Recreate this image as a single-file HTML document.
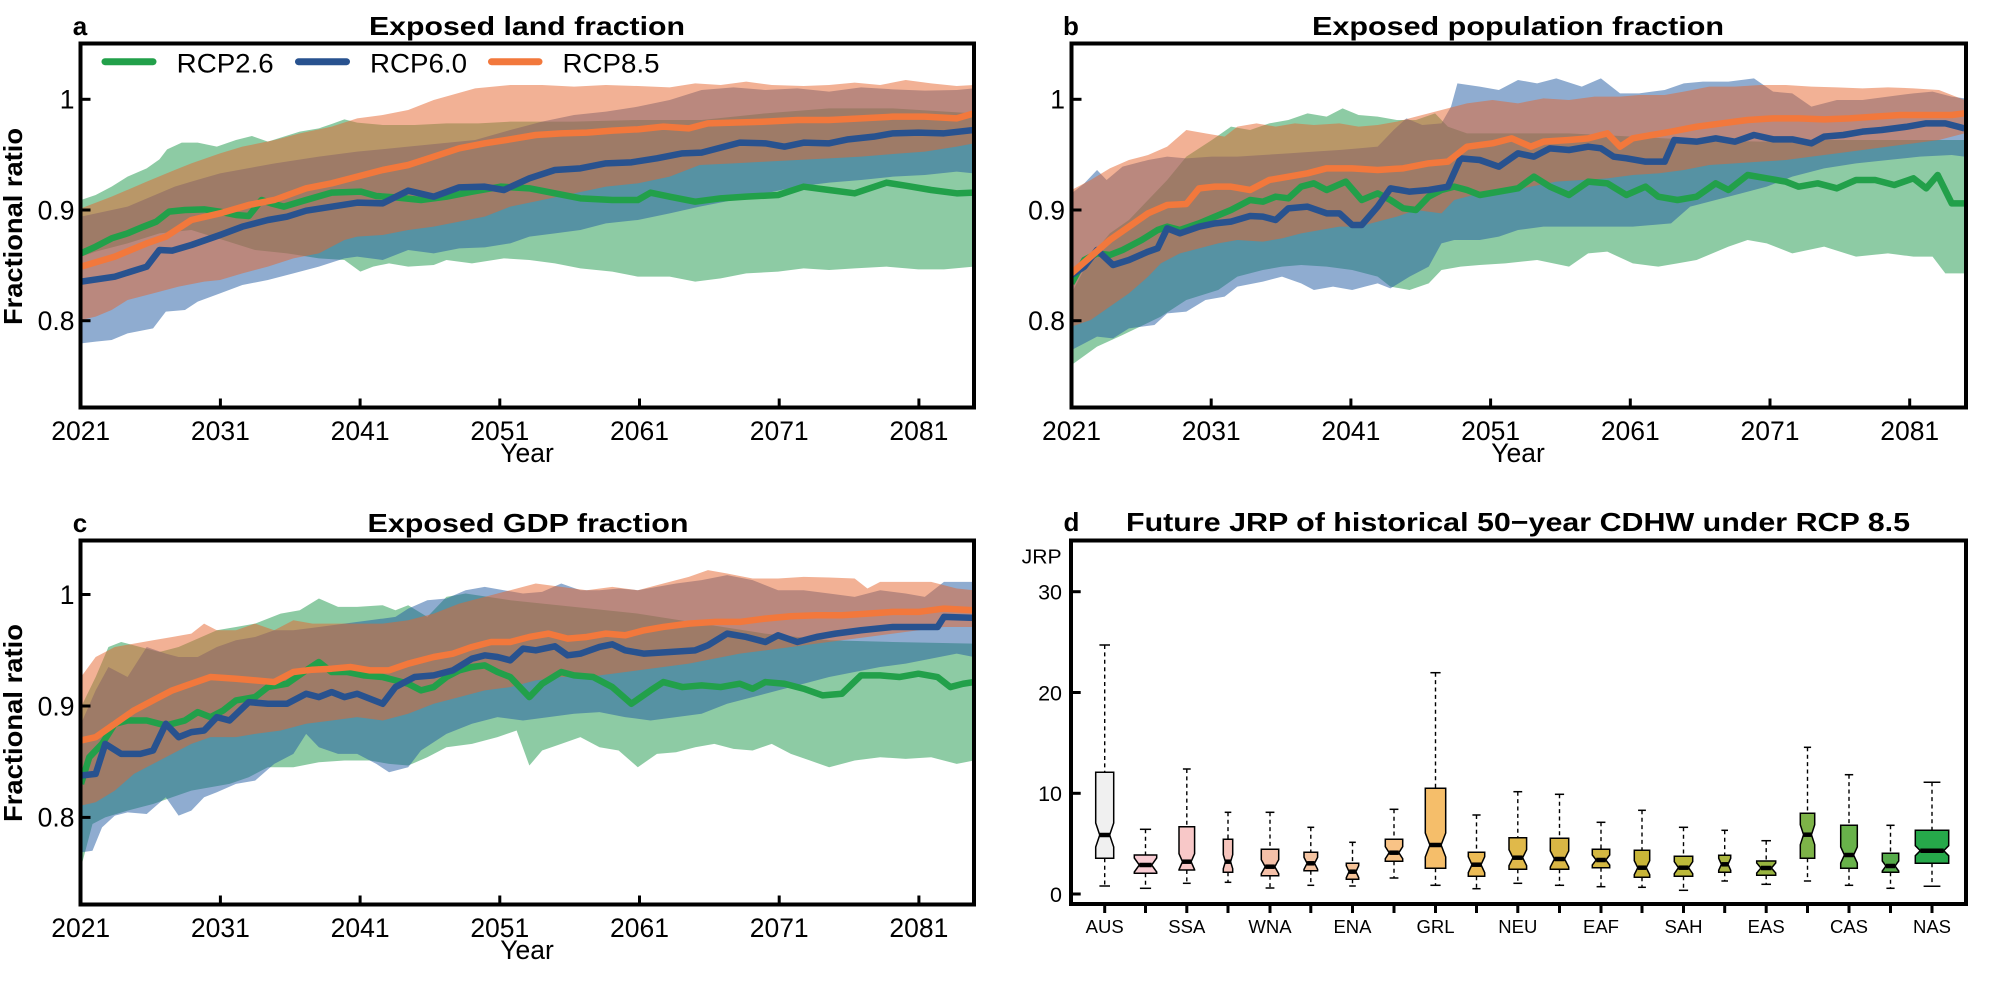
<!DOCTYPE html>
<html><head><meta charset="utf-8"><style>
html,body{margin:0;padding:0;background:#fff;}
svg{display:block;}
text{font-family:"Liberation Sans",Arial,sans-serif;fill:#000;}
.t{font-size:26.5px;}
.ttl{font-size:26px;font-weight:bold;}
.lab{font-size:26px;font-weight:bold;}
.ln{fill:none;stroke-width:6.5;stroke-linejoin:round;stroke-linecap:butt;}
.gF{fill:#1b9749;fill-opacity:0.5;}
.bF{fill:#1f59a1;fill-opacity:0.5;}
.oF{fill:#e5632b;fill-opacity:0.5;}
.frame{fill:none;stroke:#000;stroke-width:4;}
.tk{stroke:#000;stroke-width:3;}
.wh{stroke:#000;stroke-width:1.4;stroke-dasharray:4 3.4;}
.cap{stroke:#000;stroke-width:1.5;}
.bx{stroke:#000;stroke-width:1.5;}
.md{stroke:#000;stroke-width:4.5;}
.dl{font-size:18.5px;}
.dy{font-size:21.5px;}
</style></head><body>
<svg width="1995" height="981" viewBox="0 0 1995 981" xmlns="http://www.w3.org/2000/svg">
<rect width="1995" height="981" fill="#fff"/>
<defs>
<clipPath id="cpa"><rect x="81" y="43.5" width="893" height="364"/></clipPath>
<clipPath id="cpb"><rect x="1071.5" y="43.5" width="894.5" height="364"/></clipPath>
<clipPath id="cpc"><rect x="81" y="540.5" width="893" height="364"/></clipPath>
</defs>

<!-- ============ PANEL A ============ -->
<g clip-path="url(#cpa)">
<g transform="matrix(0.6378 0 0 0.33333 0 0)">
<polygon class="gF" points="127,600 150,585 175,560 200,530 230,505 250,478 262,448 285,428 310,428 340,440 370,420 395,408 420,425 445,410 470,395 500,385 520,372 540,358 560,368 600,375 650,375 700,370 750,370 800,365 900,365 1000,360 1100,360 1200,340 1300,325 1400,325 1527,340 1527,800 1480,808 1440,808 1390,800 1340,805 1300,810 1260,805 1220,815 1170,820 1130,835 1090,845 1050,830 1000,830 960,815 910,805 870,790 830,780 790,775 740,790 700,780 680,795 640,800 610,790 585,800 565,815 540,780 500,775 450,760 400,750 350,720 300,690 250,700 200,730 150,755 127,770"/>
<polygon class="bF" points="127,650 200,620 274,560 300,545 345,520 431,490 500,470 560,455 640,440 745,420 800,390 850,365 900,345 950,335 1000,320 1050,300 1100,270 1150,262 1200,270 1250,265 1300,275 1350,262 1400,268 1450,272 1500,270 1527,265 1527,520 1500,515 1450,525 1400,530 1350,540 1300,548 1250,560 1200,580 1150,600 1097,620 1050,640 1000,660 950,670 910,690 870,700 830,710 800,730 760,742 720,745 680,760 640,750 600,780 560,770 540,775 500,800 460,820 420,840 380,855 345,880 310,905 290,930 260,935 240,985 200,1000 175,1020 150,1025 127,1030"/>
<polygon class="oF" points="127,625 175,590 230,545 274,510 300,490 345,460 380,440 431,420 470,400 520,380 560,355 600,345 640,330 680,300 745,265 800,255 850,255 900,260 950,255 1000,258 1050,262 1090,250 1130,255 1170,245 1210,255 1260,258 1300,255 1340,248 1380,255 1420,240 1460,250 1500,258 1527,255 1527,430 1500,440 1450,455 1400,462 1350,470 1300,475 1250,480 1200,485 1150,490 1097,495 1050,530 1000,550 950,560 900,580 850,600 800,620 760,650 720,665 680,680 640,690 600,705 560,710 540,720 500,760 460,775 420,800 380,820 345,840 320,845 280,860 240,880 200,900 175,930 150,950 127,960"/>
<polyline class="ln" vector-effect="non-scaling-stroke" stroke="#22a04a" points="127,760 150,740 175,715 200,700 225,680 245,665 265,635 290,630 320,628 345,635 370,645 390,648 410,600 425,610 445,620 480,600 520,578 566,575 590,588 620,592 660,600 700,590 740,575 785,560 830,565 870,580 910,595 960,600 1000,600 1020,578 1050,590 1090,605 1130,595 1170,590 1220,585 1260,560 1300,570 1340,580 1390,548 1420,557 1460,570 1500,580 1527,578"/>
<polyline class="ln" vector-effect="non-scaling-stroke" stroke="#28528f" points="127,845 180,830 230,800 250,750 270,752 300,735 345,705 380,680 420,660 450,650 480,632 520,620 560,608 600,610 640,572 680,590 720,562 760,560 790,570 830,535 870,510 910,505 950,490 990,487 1030,475 1070,460 1100,458 1160,428 1200,430 1230,440 1260,428 1300,430 1330,418 1370,410 1400,400 1440,398 1480,400 1527,390"/>
<polyline class="ln" vector-effect="non-scaling-stroke" stroke="#f2783c" points="127,800 180,770 230,730 260,710 300,660 345,640 390,615 430,600 480,565 520,550 560,530 600,510 640,495 680,470 720,445 760,430 800,418 840,405 880,400 920,398 960,392 1000,388 1040,380 1080,385 1110,370 1150,368 1200,365 1250,360 1300,360 1350,355 1400,350 1450,350 1500,355 1527,340"/>
</g></g>
<rect class="frame" x="80.5" y="43.5" width="893.5" height="364"/>
<g class="tk">
<line x1="220.4" y1="407.5" x2="220.4" y2="398.5"/><line x1="360.1" y1="407.5" x2="360.1" y2="398.5"/><line x1="499.8" y1="407.5" x2="499.8" y2="398.5"/><line x1="639.5" y1="407.5" x2="639.5" y2="398.5"/><line x1="779.2" y1="407.5" x2="779.2" y2="398.5"/><line x1="918.9" y1="407.5" x2="918.9" y2="398.5"/>
<line x1="80.5" y1="99.3" x2="90.5" y2="99.3"/><line x1="80.5" y1="210" x2="90.5" y2="210"/><line x1="80.5" y1="320.7" x2="90.5" y2="320.7"/>
</g>
<g class="t" text-anchor="middle">
<text x="80.7" y="440">2021</text><text x="220.4" y="440">2031</text><text x="360.1" y="440">2041</text><text x="499.8" y="440">2051</text><text x="639.5" y="440">2061</text><text x="779.2" y="440">2071</text><text x="918.9" y="440">2081</text>
<text x="527" y="462">Year</text>
</g>
<g class="t" text-anchor="end">
<text x="74.5" y="108.6">1</text><text x="74.5" y="219.3">0.9</text><text x="74.5" y="330">0.8</text>
</g>
<text class="ttl" x="80" y="35" text-anchor="middle">a</text>
<text class="ttl" x="527" y="35" text-anchor="middle" textLength="316" lengthAdjust="spacingAndGlyphs">Exposed land fraction</text>
<text class="lab" transform="translate(22,226.5) rotate(-90)" text-anchor="middle" font-size="27" textLength="197" lengthAdjust="spacingAndGlyphs">Fractional ratio</text>
<!-- legend -->
<line x1="105" y1="61.7" x2="153" y2="61.7" stroke="#22a04a" stroke-width="7" stroke-linecap="round"/>
<text x="176.7" y="72.3" font-size="27" textLength="97" lengthAdjust="spacingAndGlyphs">RCP2.6</text>
<line x1="298.5" y1="61.7" x2="346.5" y2="61.7" stroke="#28528f" stroke-width="7" stroke-linecap="round"/>
<text x="370" y="72.3" font-size="27" textLength="97" lengthAdjust="spacingAndGlyphs">RCP6.0</text>
<line x1="491.5" y1="61.7" x2="539" y2="61.7" stroke="#f2783c" stroke-width="7" stroke-linecap="round"/>
<text x="562.5" y="72.3" font-size="27" textLength="97" lengthAdjust="spacingAndGlyphs">RCP8.5</text>

<!-- ============ PANEL B ============ -->
<g clip-path="url(#cpb)">
<g transform="matrix(0.6378 0 0 0.33333 995 0)">
<polygon class="gF" points="120,880 150,770 180,700 210,660 240,600 270,540 300,470 340,420 370,380 400,390 430,370 460,360 490,340 520,350 545,325 570,345 600,350 630,360 660,360 690,340 710,380 740,400 800,400 900,400 1000,410 1100,420 1200,425 1300,420 1400,420 1520,420 1520,820 1490,820 1470,770 1440,770 1400,760 1350,770 1300,740 1250,760 1210,730 1180,720 1150,740 1100,780 1070,790 1040,800 1000,790 960,755 930,760 900,800 850,780 800,790 760,795 730,800 700,810 680,850 650,870 620,860 600,830 560,810 520,800 480,795 450,800 420,810 380,830 350,870 300,900 260,950 200,1005 160,1040 120,1095"/>
<polygon class="bF" points="120,580 140,550 160,510 175,540 200,500 240,480 270,470 300,475 340,470 380,470 420,465 460,460 500,455 540,450 570,445 600,440 625,390 645,355 670,375 700,370 715,320 725,250 760,260 790,270 820,240 850,250 880,235 920,260 950,235 980,280 1010,280 1050,270 1080,250 1110,245 1150,245 1190,235 1220,275 1250,280 1280,320 1320,300 1360,300 1400,290 1440,280 1470,275 1500,290 1520,295 1520,470 1500,465 1450,470 1400,480 1350,490 1300,505 1250,530 1210,560 1170,580 1130,600 1090,620 1060,670 1000,680 950,680 900,680 860,680 820,690 790,710 760,720 720,720 700,730 680,800 650,830 620,865 600,850 580,860 560,870 530,860 500,870 480,850 450,830 420,845 380,860 360,890 330,900 300,935 270,940 250,975 210,985 185,1015 160,1010 140,1030 120,1050"/>
<polygon class="oF" points="120,570 150,540 180,505 210,480 240,465 270,440 300,390 330,400 360,410 380,380 410,370 440,380 470,370 500,375 540,370 570,380 600,375 630,365 660,350 700,330 740,310 780,300 820,310 860,295 900,300 940,290 980,290 1010,285 1050,285 1080,275 1120,260 1160,260 1200,255 1240,255 1280,260 1320,262 1360,265 1400,262 1440,265 1480,270 1520,300 1520,400 1480,420 1440,430 1400,440 1360,450 1320,460 1280,470 1240,480 1200,485 1160,490 1120,495 1080,510 1040,520 1000,525 960,535 920,540 880,545 840,560 800,575 760,580 720,600 700,640 660,630 630,650 600,665 570,680 540,680 510,690 480,700 450,715 420,725 380,720 350,730 320,745 290,760 260,790 240,830 210,880 180,920 150,960 120,980"/>
<polyline class="ln" vector-effect="non-scaling-stroke" stroke="#22a04a" points="120,850 140,780 160,760 180,765 200,750 230,720 255,690 270,680 290,690 320,670 345,650 370,630 400,600 420,605 440,590 460,595 480,560 500,550 520,570 550,545 575,600 600,580 620,600 640,625 660,630 680,590 700,570 720,560 740,570 760,585 790,575 820,565 845,530 870,560 900,585 930,545 960,550 990,585 1020,560 1040,590 1070,600 1100,590 1130,550 1150,570 1180,525 1210,535 1240,545 1260,560 1290,550 1320,565 1350,540 1380,540 1410,555 1440,535 1460,565 1478,525 1500,610 1520,610"/>
<polyline class="ln" vector-effect="non-scaling-stroke" stroke="#28528f" points="120,825 140,800 160,750 185,795 210,780 240,755 255,745 270,685 290,700 320,680 345,670 370,665 400,648 420,650 440,660 460,625 490,620 520,640 540,640 560,675 575,675 600,620 620,565 650,575 680,570 710,560 730,475 760,480 790,500 820,460 845,470 870,445 900,450 930,440 950,445 970,470 990,475 1020,485 1050,485 1065,420 1100,425 1130,415 1160,425 1190,405 1220,418 1250,418 1280,430 1300,410 1330,405 1360,395 1390,390 1430,380 1460,370 1490,370 1520,385"/>
<polyline class="ln" vector-effect="non-scaling-stroke" stroke="#f2783c" points="120,820 150,770 180,720 210,680 240,640 270,615 300,612 320,565 345,560 370,560 400,570 430,540 460,530 490,520 520,505 560,505 600,510 640,505 680,490 710,485 740,440 780,430 810,415 840,440 860,425 900,420 930,415 960,400 980,440 1000,415 1030,405 1060,395 1100,380 1140,370 1180,360 1220,355 1260,355 1300,358 1340,355 1380,350 1420,345 1460,345 1500,345 1520,340"/>
</g></g>
<rect class="frame" x="1071.5" y="43.5" width="894.5" height="364"/>
<g class="tk">
<line x1="1211.2" y1="407.5" x2="1211.2" y2="398.5"/><line x1="1350.9" y1="407.5" x2="1350.9" y2="398.5"/><line x1="1490.6" y1="407.5" x2="1490.6" y2="398.5"/><line x1="1630.3" y1="407.5" x2="1630.3" y2="398.5"/><line x1="1770" y1="407.5" x2="1770" y2="398.5"/><line x1="1909.7" y1="407.5" x2="1909.7" y2="398.5"/>
<line x1="1071.5" y1="99.3" x2="1081.5" y2="99.3"/><line x1="1071.5" y1="210" x2="1081.5" y2="210"/><line x1="1071.5" y1="320.7" x2="1081.5" y2="320.7"/>
</g>
<g class="t" text-anchor="middle">
<text x="1071.5" y="440">2021</text><text x="1211.2" y="440">2031</text><text x="1350.9" y="440">2041</text><text x="1490.6" y="440">2051</text><text x="1630.3" y="440">2061</text><text x="1770" y="440">2071</text><text x="1909.7" y="440">2081</text>
<text x="1518" y="462">Year</text>
</g>
<g class="t" text-anchor="end">
<text x="1065" y="108.6">1</text><text x="1065" y="219.3">0.9</text><text x="1065" y="330">0.8</text>
</g>
<text class="ttl" x="1071" y="35" text-anchor="middle">b</text>
<text class="ttl" x="1518" y="35" text-anchor="middle" textLength="412" lengthAdjust="spacingAndGlyphs">Exposed population fraction</text>

<!-- ============ PANEL C ============ -->
<g clip-path="url(#cpc)">
<g transform="matrix(0.6378 0 0 0.33401 0 490)">
<polygon class="gF" points="127,650 150,560 170,470 190,455 220,470 250,485 280,470 310,445 340,420 370,410 400,400 440,370 470,360 500,325 530,350 560,350 600,345 620,360 640,345 670,380 700,320 730,310 800,330 900,350 1000,370 1100,400 1200,430 1300,450 1400,455 1527,460 1527,810 1500,820 1460,800 1420,805 1380,800 1340,810 1300,830 1270,810 1240,790 1210,760 1180,780 1150,775 1120,760 1090,770 1060,785 1030,790 1000,830 970,780 940,770 910,740 880,760 850,780 830,825 810,720 780,740 740,760 700,770 670,800 640,825 610,820 580,810 540,810 500,815 460,830 420,830 390,860 360,880 330,890 300,900 270,920 240,940 200,960 165,980 145,1000 127,1130"/>
<polygon class="bF" points="127,700 150,600 170,530 200,560 230,470 260,490 280,500 310,500 340,470 370,450 400,440 430,420 460,420 500,410 540,400 580,390 620,380 640,355 670,330 700,325 730,300 760,290 790,300 820,310 850,305 880,280 910,300 940,300 970,295 1000,300 1030,290 1060,280 1100,270 1140,255 1180,270 1220,300 1260,300 1300,310 1340,320 1380,300 1420,310 1450,320 1480,275 1527,275 1527,500 1500,490 1460,505 1420,520 1380,530 1340,545 1300,560 1260,580 1220,600 1180,620 1140,640 1100,670 1060,680 1020,690 980,680 940,665 900,670 860,680 820,690 780,680 740,700 700,730 660,780 640,830 610,845 590,820 560,790 530,790 500,770 480,730 460,790 430,820 400,870 370,880 340,905 320,920 300,960 280,975 260,920 230,970 200,965 180,975 160,1010 145,1080 127,1085"/>
<polygon class="oF" points="127,560 150,500 180,470 210,460 240,450 270,440 300,430 320,400 340,420 370,420 400,400 430,420 460,390 490,400 520,400 560,400 600,400 640,390 680,370 720,340 760,320 800,300 840,280 880,290 920,300 960,290 1000,300 1040,280 1080,260 1110,240 1140,250 1180,265 1220,265 1260,260 1300,262 1340,265 1360,295 1380,275 1420,275 1460,275 1500,295 1527,300 1527,410 1480,410 1440,420 1400,430 1360,440 1320,450 1280,460 1240,470 1200,480 1160,490 1120,505 1080,520 1040,530 1000,540 960,550 920,560 880,560 840,570 800,590 760,600 720,620 680,640 640,670 600,690 560,680 520,690 480,700 440,720 400,730 370,740 330,740 300,760 270,790 240,820 210,850 180,900 150,935 127,945"/>
<polyline class="ln" vector-effect="non-scaling-stroke" stroke="#22a04a" points="127,880 140,800 160,760 180,700 200,690 230,690 260,705 290,690 310,665 330,680 350,660 370,630 400,620 420,590 450,580 480,540 500,515 520,545 545,545 570,555 600,560 620,570 640,580 660,600 680,590 700,560 720,540 740,530 760,525 780,545 800,560 830,620 850,580 880,545 900,555 930,560 960,590 990,640 1020,600 1040,575 1070,590 1100,585 1130,590 1160,580 1180,595 1200,575 1230,580 1260,595 1290,615 1320,610 1350,555 1380,555 1410,560 1440,550 1470,560 1490,590 1510,580 1527,575"/>
<polyline class="ln" vector-effect="non-scaling-stroke" stroke="#28528f" points="127,855 150,850 165,760 190,790 220,790 240,780 260,700 280,740 300,725 320,720 340,680 360,690 390,635 420,640 450,640 480,610 500,620 520,605 540,620 560,610 600,640 620,590 650,560 680,555 710,540 740,505 760,495 780,500 800,510 820,475 840,480 870,468 890,495 910,490 940,470 960,462 980,480 1010,490 1050,485 1090,480 1110,465 1140,430 1170,440 1200,455 1220,435 1250,455 1280,440 1310,430 1350,420 1400,410 1440,410 1470,410 1480,380 1527,383"/>
<polyline class="ln" vector-effect="non-scaling-stroke" stroke="#f2783c" points="127,750 150,740 180,700 210,660 240,630 270,600 300,580 330,560 370,565 400,570 430,575 460,545 490,538 520,535 550,530 580,540 610,540 640,520 680,500 710,490 740,470 770,455 800,455 830,440 860,430 890,445 920,440 950,430 980,435 1010,420 1040,410 1080,400 1120,395 1160,395 1200,385 1240,378 1280,375 1320,375 1360,370 1400,365 1440,365 1480,355 1527,360"/>
</g></g>
<rect class="frame" x="80.5" y="540.5" width="893.5" height="364"/>
<g class="tk">
<line x1="220.4" y1="904.5" x2="220.4" y2="895.5"/><line x1="360.1" y1="904.5" x2="360.1" y2="895.5"/><line x1="499.8" y1="904.5" x2="499.8" y2="895.5"/><line x1="639.5" y1="904.5" x2="639.5" y2="895.5"/><line x1="779.2" y1="904.5" x2="779.2" y2="895.5"/><line x1="918.9" y1="904.5" x2="918.9" y2="895.5"/>
<line x1="80.5" y1="594.5" x2="90.5" y2="594.5"/><line x1="80.5" y1="706" x2="90.5" y2="706"/><line x1="80.5" y1="817.4" x2="90.5" y2="817.4"/>
</g>
<g class="t" text-anchor="middle">
<text x="80.7" y="937">2021</text><text x="220.4" y="937">2031</text><text x="360.1" y="937">2041</text><text x="499.8" y="937">2051</text><text x="639.5" y="937">2061</text><text x="779.2" y="937">2071</text><text x="918.9" y="937">2081</text>
<text x="527" y="959">Year</text>
</g>
<g class="t" text-anchor="end">
<text x="74.5" y="603.8">1</text><text x="74.5" y="715.3">0.9</text><text x="74.5" y="826.7">0.8</text>
</g>
<text class="ttl" x="80" y="532" text-anchor="middle">c</text>
<text class="ttl" x="528" y="532" text-anchor="middle" textLength="321" lengthAdjust="spacingAndGlyphs">Exposed GDP fraction</text>
<text class="lab" transform="translate(22,723) rotate(-90)" text-anchor="middle" font-size="27" textLength="198" lengthAdjust="spacingAndGlyphs">Fractional ratio</text>

<!-- ============ PANEL D ============ -->
<text class="ttl" x="1071.5" y="531" text-anchor="middle">d</text>
<text class="ttl" x="1518" y="531" text-anchor="middle" textLength="784" lengthAdjust="spacingAndGlyphs">Future JRP of historical 50−year CDHW under RCP 8.5</text>
<text x="1061.7" y="563.3" font-size="20.5" text-anchor="end" textLength="40" lengthAdjust="spacingAndGlyphs">JRP</text>
<g class="dy" text-anchor="end">
<text x="1062" y="599.5">30</text><text x="1062" y="700.3">20</text><text x="1062" y="801.1">10</text><text x="1062" y="901.8">0</text>
</g>
<g class="tk">
<line x1="1071" y1="591.7" x2="1080.7" y2="591.7"/><line x1="1071" y1="692.5" x2="1080.7" y2="692.5"/><line x1="1071" y1="793.3" x2="1080.7" y2="793.3"/><line x1="1071" y1="894" x2="1080.7" y2="894"/>
<line x1="1104.7" y1="904" x2="1104.7" y2="913"/><line x1="1145.5" y1="904" x2="1145.5" y2="913"/><line x1="1186.8" y1="904" x2="1186.8" y2="913"/><line x1="1228" y1="904" x2="1228" y2="913"/><line x1="1270" y1="904" x2="1270" y2="913"/><line x1="1310.8" y1="904" x2="1310.8" y2="913"/><line x1="1352.5" y1="904" x2="1352.5" y2="913"/><line x1="1394" y1="904" x2="1394" y2="913"/><line x1="1435.5" y1="904" x2="1435.5" y2="913"/><line x1="1476.5" y1="904" x2="1476.5" y2="913"/><line x1="1517.8" y1="904" x2="1517.8" y2="913"/><line x1="1559.5" y1="904" x2="1559.5" y2="913"/><line x1="1601" y1="904" x2="1601" y2="913"/><line x1="1642" y1="904" x2="1642" y2="913"/><line x1="1683.5" y1="904" x2="1683.5" y2="913"/><line x1="1724.7" y1="904" x2="1724.7" y2="913"/><line x1="1766.2" y1="904" x2="1766.2" y2="913"/><line x1="1807.5" y1="904" x2="1807.5" y2="913"/><line x1="1849" y1="904" x2="1849" y2="913"/><line x1="1890.5" y1="904" x2="1890.5" y2="913"/><line x1="1932" y1="904" x2="1932" y2="913"/>
</g>
<g class="dl" text-anchor="middle">
<text x="1104.7" y="933">AUS</text><text x="1186.8" y="933">SSA</text><text x="1270" y="933">WNA</text><text x="1352.5" y="933">ENA</text><text x="1435.5" y="933">GRL</text><text x="1517.8" y="933">NEU</text><text x="1601" y="933">EAF</text><text x="1683.5" y="933">SAH</text><text x="1766.2" y="933">EAS</text><text x="1849" y="933">CAS</text><text x="1932" y="933">NAS</text>
</g>

<!-- whiskers -->
<g class="wh">
<line x1="1104.7" y1="645" x2="1104.7" y2="772.3"/><line x1="1104.7" y1="858.3" x2="1104.7" y2="886"/>
<line x1="1145.5" y1="829.3" x2="1145.5" y2="855"/><line x1="1145.5" y1="873.3" x2="1145.5" y2="888.3"/>
<line x1="1186.8" y1="769" x2="1186.8" y2="826.7"/><line x1="1186.8" y1="870" x2="1186.8" y2="883.3"/>
<line x1="1228" y1="812.3" x2="1228" y2="839.3"/><line x1="1228" y1="872.3" x2="1228" y2="882.3"/>
<line x1="1270" y1="812.3" x2="1270" y2="849.3"/><line x1="1270" y1="875.7" x2="1270" y2="888"/>
<line x1="1310.8" y1="827.3" x2="1310.8" y2="852.3"/><line x1="1310.8" y1="870.7" x2="1310.8" y2="885.3"/>
<line x1="1352.5" y1="842.3" x2="1352.5" y2="863.3"/><line x1="1352.5" y1="879.3" x2="1352.5" y2="886"/>
<line x1="1394" y1="809.3" x2="1394" y2="839.3"/><line x1="1394" y1="861.3" x2="1394" y2="878"/>
<line x1="1435.5" y1="672.7" x2="1435.5" y2="788.3"/><line x1="1435.5" y1="868.3" x2="1435.5" y2="885.3"/>
<line x1="1476.5" y1="815" x2="1476.5" y2="852.3"/><line x1="1476.5" y1="876.3" x2="1476.5" y2="888.7"/>
<line x1="1517.8" y1="791.7" x2="1517.8" y2="837.7"/><line x1="1517.8" y1="869.3" x2="1517.8" y2="883.3"/>
<line x1="1559.5" y1="794.3" x2="1559.5" y2="838.3"/><line x1="1559.5" y1="869.3" x2="1559.5" y2="885.3"/>
<line x1="1601" y1="822.3" x2="1601" y2="849.3"/><line x1="1601" y1="867.7" x2="1601" y2="886.7"/>
<line x1="1642" y1="810.3" x2="1642" y2="850.3"/><line x1="1642" y1="877.3" x2="1642" y2="887.3"/>
<line x1="1683.5" y1="827.3" x2="1683.5" y2="856.3"/><line x1="1683.5" y1="876.3" x2="1683.5" y2="890.3"/>
<line x1="1724.7" y1="830.3" x2="1724.7" y2="855.3"/><line x1="1724.7" y1="872.3" x2="1724.7" y2="881"/>
<line x1="1766.2" y1="840.7" x2="1766.2" y2="861"/><line x1="1766.2" y1="875.3" x2="1766.2" y2="884.3"/>
<line x1="1807.5" y1="747.3" x2="1807.5" y2="813.3"/><line x1="1807.5" y1="858.3" x2="1807.5" y2="881"/>
<line x1="1849" y1="774.7" x2="1849" y2="825.3"/><line x1="1849" y1="868.3" x2="1849" y2="885.3"/>
<line x1="1890.5" y1="825.3" x2="1890.5" y2="853.3"/><line x1="1890.5" y1="872.3" x2="1890.5" y2="888.3"/>
<line x1="1932" y1="782.3" x2="1932" y2="830.3"/><line x1="1932" y1="863.3" x2="1932" y2="886.3"/>
</g>
<!-- caps -->
<g class="cap">
<line x1="1099.4" y1="645" x2="1110" y2="645"/><line x1="1099.4" y1="886" x2="1110" y2="886"/>
<line x1="1139.9" y1="829.3" x2="1151.1" y2="829.3"/><line x1="1139.9" y1="888.3" x2="1151.1" y2="888.3"/>
<line x1="1182.9" y1="769" x2="1190.7" y2="769"/><line x1="1182.9" y1="883.3" x2="1190.7" y2="883.3"/>
<line x1="1224.7" y1="812.3" x2="1231.3" y2="812.3"/><line x1="1224.7" y1="882.3" x2="1231.3" y2="882.3"/>
<line x1="1265.6" y1="812.3" x2="1274.4" y2="812.3"/><line x1="1265.6" y1="888" x2="1274.4" y2="888"/>
<line x1="1307.4" y1="827.3" x2="1314.2" y2="827.3"/><line x1="1307.4" y1="885.3" x2="1314.2" y2="885.3"/>
<line x1="1349.2" y1="842.3" x2="1355.8" y2="842.3"/><line x1="1349.2" y1="886" x2="1355.8" y2="886"/>
<line x1="1389.6" y1="809.3" x2="1398.4" y2="809.3"/><line x1="1389.6" y1="878" x2="1398.4" y2="878"/>
<line x1="1430.4" y1="672.7" x2="1440.6" y2="672.7"/><line x1="1430.4" y1="885.3" x2="1440.6" y2="885.3"/>
<line x1="1472.4" y1="815" x2="1480.6" y2="815"/><line x1="1472.4" y1="888.7" x2="1480.6" y2="888.7"/>
<line x1="1513.4" y1="791.7" x2="1522.2" y2="791.7"/><line x1="1513.4" y1="883.3" x2="1522.2" y2="883.3"/>
<line x1="1554.9" y1="794.3" x2="1564.1" y2="794.3"/><line x1="1554.9" y1="885.3" x2="1564.1" y2="885.3"/>
<line x1="1596.6" y1="822.3" x2="1605.4" y2="822.3"/><line x1="1596.6" y1="886.7" x2="1605.4" y2="886.7"/>
<line x1="1638.1" y1="810.3" x2="1645.9" y2="810.3"/><line x1="1638.1" y1="887.3" x2="1645.9" y2="887.3"/>
<line x1="1678.9" y1="827.3" x2="1688.1" y2="827.3"/><line x1="1678.9" y1="890.3" x2="1688.1" y2="890.3"/>
<line x1="1721.4" y1="830.3" x2="1728" y2="830.3"/><line x1="1721.4" y1="881" x2="1728" y2="881"/>
<line x1="1761.4" y1="840.7" x2="1771" y2="840.7"/><line x1="1761.4" y1="884.3" x2="1771" y2="884.3"/>
<line x1="1803.9" y1="747.3" x2="1811.1" y2="747.3"/><line x1="1803.9" y1="881" x2="1811.1" y2="881"/>
<line x1="1844.8" y1="774.7" x2="1853.2" y2="774.7"/><line x1="1844.8" y1="885.3" x2="1853.2" y2="885.3"/>
<line x1="1886.4" y1="825.3" x2="1894.6" y2="825.3"/><line x1="1886.4" y1="888.3" x2="1894.6" y2="888.3"/>
<line x1="1923.6" y1="782.3" x2="1940.4" y2="782.3"/><line x1="1923.6" y1="886.3" x2="1940.4" y2="886.3"/>
</g>
<!-- boxes -->
<g class="bx">
<polygon fill="#f0f0f0" points="1095.7,772.3 1113.7,772.3 1113.7,823 1109.65,835 1113.7,847 1113.7,858.3 1095.7,858.3 1095.7,847 1099.75,835 1095.7,823"/>
<polygon fill="#f9cdd4" points="1134.3,855 1156.7,855 1156.7,858 1151.66,865 1156.7,872 1156.7,873.3 1134.3,873.3 1134.3,872 1139.34,865 1134.3,858"/>
<polygon fill="#f8c8c8" points="1179,826.7 1194.6,826.7 1194.6,853.7 1191.09,861.7 1194.6,869.7 1194.6,870 1179,870 1179,869.7 1182.51,861.7 1179,853.7"/>
<polygon fill="#f6c4bc" points="1223.3,839.3 1232.7,839.3 1232.7,854.7 1230.59,861.7 1232.7,868.7 1232.7,872.3 1223.3,872.3 1223.3,868.7 1225.41,861.7 1223.3,854.7"/>
<polygon fill="#f5c0a8" points="1261.3,849.3 1278.7,849.3 1278.7,859.7 1274.79,866.7 1278.7,873.7 1278.7,875.7 1261.3,875.7 1261.3,873.7 1265.21,866.7 1261.3,859.7"/>
<polygon fill="#f5c4a2" points="1304,852.3 1317.6,852.3 1317.6,857.3 1314.54,863.3 1317.6,869.3 1317.6,870.7 1304,870.7 1304,869.3 1307.06,863.3 1304,857.3"/>
<polygon fill="#f6c398" points="1346.3,863.3 1358.7,863.3 1358.7,865.7 1355.91,871.7 1358.7,877.7 1358.7,879.3 1346.3,879.3 1346.3,877.7 1349.09,871.7 1346.3,865.7"/>
<polygon fill="#f8c386" points="1385.3,839.3 1402.7,839.3 1402.7,846.7 1398.79,852.7 1402.7,858.7 1402.7,861.3 1385.3,861.3 1385.3,858.7 1389.21,852.7 1385.3,846.7"/>
<polygon fill="#f5be6a" points="1425.3,788.3 1445.7,788.3 1445.7,833 1441.11,845 1445.7,857 1445.7,868.3 1425.3,868.3 1425.3,857 1429.89,845 1425.3,833"/>
<polygon fill="#ebbb55" points="1468.3,852.3 1484.7,852.3 1484.7,856.7 1481.01,864.7 1484.7,872.7 1484.7,876.3 1468.3,876.3 1468.3,872.7 1471.99,864.7 1468.3,856.7"/>
<polygon fill="#e0b94a" points="1509,837.7 1526.6,837.7 1526.6,849.7 1522.64,857.7 1526.6,865.7 1526.6,869.3 1509,869.3 1509,865.7 1512.96,857.7 1509,849.7"/>
<polygon fill="#d9b645" points="1550.3,838.3 1568.7,838.3 1568.7,851 1564.56,859 1568.7,867 1568.7,869.3 1550.3,869.3 1550.3,867 1554.44,859 1550.3,851"/>
<polygon fill="#d4b842" points="1592.3,849.3 1609.7,849.3 1609.7,855 1605.79,860 1609.7,865 1609.7,867.7 1592.3,867.7 1592.3,865 1596.21,860 1592.3,855"/>
<polygon fill="#c8b538" points="1634.3,850.3 1649.7,850.3 1649.7,860.7 1646.24,867.7 1649.7,874.7 1649.7,877.3 1634.3,877.3 1634.3,874.7 1637.76,867.7 1634.3,860.7"/>
<polygon fill="#bcb93a" points="1674.3,856.3 1692.7,856.3 1692.7,861.7 1688.56,867.7 1692.7,873.7 1692.7,876.3 1674.3,876.3 1674.3,873.7 1678.44,867.7 1674.3,861.7"/>
<polygon fill="#aab540" points="1718.7,855.3 1730.7,855.3 1730.7,858.3 1728,864.3 1730.7,870.3 1730.7,872.3 1718.7,872.3 1718.7,870.3 1721.4,864.3 1718.7,858.3"/>
<polygon fill="#98b440" points="1756.7,861 1775.7,861 1775.7,863 1771.43,868 1775.7,873 1775.7,875.3 1756.7,875.3 1756.7,873 1760.97,868 1756.7,863"/>
<polygon fill="#7db348" points="1800.3,813.3 1814.7,813.3 1814.7,824.7 1811.46,834.7 1814.7,844.7 1814.7,858.3 1800.3,858.3 1800.3,844.7 1803.54,834.7 1800.3,824.7"/>
<polygon fill="#68b24a" points="1840.7,825.3 1857.3,825.3 1857.3,847 1853.57,855 1857.3,863 1857.3,868.3 1840.7,868.3 1840.7,863 1844.43,855 1840.7,847"/>
<polygon fill="#56ab4a" points="1882.3,853.3 1898.7,853.3 1898.7,861 1895.01,866 1898.7,871 1898.7,872.3 1882.3,872.3 1882.3,871 1885.99,866 1882.3,861"/>
<polygon fill="#26a84a" points="1915.3,830.3 1948.7,830.3 1948.7,845.7 1943.7,850.7 1948.7,855.7 1948.7,863.3 1915.3,863.3 1915.3,855.7 1920.3,850.7 1915.3,845.7"/>
</g>
<!-- medians -->
<g class="md">
<line x1="1099.75" y1="835" x2="1109.65" y2="835"/>
<line x1="1139.34" y1="865" x2="1151.66" y2="865"/>
<line x1="1182.51" y1="861.7" x2="1191.09" y2="861.7"/>
<line x1="1225.41" y1="861.7" x2="1230.59" y2="861.7"/>
<line x1="1265.21" y1="866.7" x2="1274.79" y2="866.7"/>
<line x1="1307.06" y1="863.3" x2="1314.54" y2="863.3"/>
<line x1="1349.09" y1="871.7" x2="1355.91" y2="871.7"/>
<line x1="1389.21" y1="852.7" x2="1398.79" y2="852.7"/>
<line x1="1429.89" y1="845" x2="1441.11" y2="845"/>
<line x1="1471.99" y1="864.7" x2="1481.01" y2="864.7"/>
<line x1="1512.96" y1="857.7" x2="1522.64" y2="857.7"/>
<line x1="1554.44" y1="859" x2="1564.56" y2="859"/>
<line x1="1596.21" y1="860" x2="1605.79" y2="860"/>
<line x1="1637.76" y1="867.7" x2="1646.24" y2="867.7"/>
<line x1="1678.44" y1="867.7" x2="1688.56" y2="867.7"/>
<line x1="1721.4" y1="864.3" x2="1728" y2="864.3"/>
<line x1="1760.97" y1="868" x2="1771.43" y2="868"/>
<line x1="1803.54" y1="834.7" x2="1811.46" y2="834.7"/>
<line x1="1844.43" y1="855" x2="1853.57" y2="855"/>
<line x1="1885.99" y1="866" x2="1895.01" y2="866"/>
<line x1="1920.3" y1="850.7" x2="1943.7" y2="850.7"/>
</g>
<rect class="frame" x="1071" y="540.5" width="895" height="363.5"/>
</svg>
</body></html>
